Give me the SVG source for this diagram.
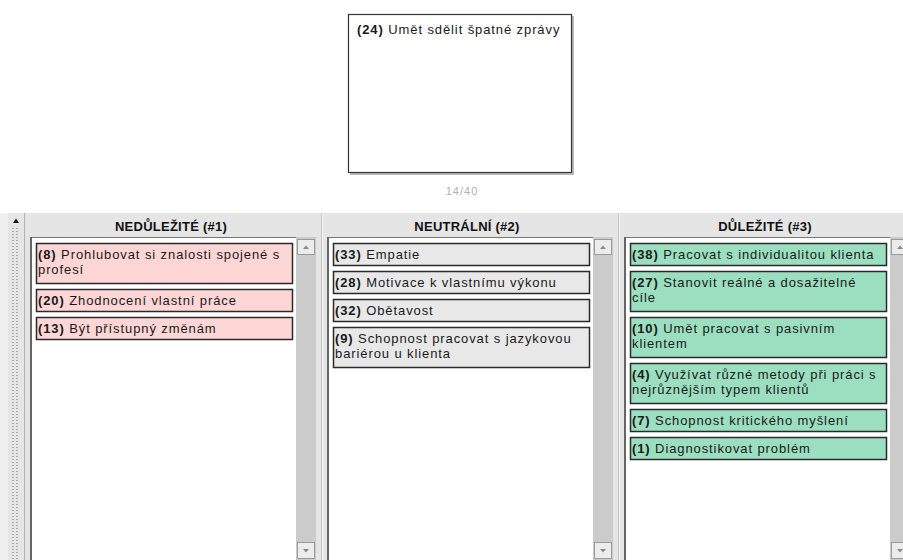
<svg xmlns="http://www.w3.org/2000/svg" width="903" height="560" viewBox="0 0 903 560">
<style>
.t{font-family:"Liberation Sans",Arial,sans-serif;font-size:13px;letter-spacing:0.9px;fill:#1a1a1a}
.b{font-weight:bold}
.h{font-family:"Liberation Sans",Arial,sans-serif;font-size:13px;font-weight:bold;letter-spacing:0.25px;fill:#111;text-anchor:middle}
.card{stroke:#2a2a2a;stroke-width:1.5}
.p{fill:#ffd6d6}
.g{fill:#e8e8e8}
.gr{fill:#9cdfc0}
.panel{fill:#e5e5e5}
.track{fill:#cbcbcb}
.btn{fill:#ececec;stroke:#9a9a9a;stroke-width:1}
.arr{fill:#8a8a8a}
</style>
<defs>
<pattern id="dots" x="12" y="0" width="10" height="3" patternUnits="userSpaceOnUse">
<rect x="0" y="0" width="2" height="1" fill="#a8a8a8"/>
<rect x="4" y="0" width="2" height="1" fill="#a8a8a8"/>
</pattern>
</defs>
<rect width="903" height="560" fill="#ffffff"/>

<g id="card-24">
<rect x="350" y="16" width="224" height="159" fill="#b8b8b8"/>
<rect x="348.5" y="14.5" width="223" height="158" fill="#ffffff" stroke="#333" stroke-width="1.2"/>
<text class="t" x="357" y="34"><tspan class="b">(24)</tspan> Umět sdělit špatné zprávy</text>
</g>
<text id="counter" x="462" y="195" font-family="Liberation Sans, Arial, sans-serif" font-size="11" letter-spacing="1" fill="#b0b0b0" text-anchor="middle">14/40</text>

<g id="left-strip">
<rect x="0" y="213" width="25" height="347" fill="#f0f0f0"/>
<rect x="8" y="213" width="16" height="347" fill="#e6e6e6"/>
<rect x="12" y="228" width="10" height="332" fill="url(#dots)"/>
<line x1="24.5" y1="213" x2="24.5" y2="560" stroke="#b0b0b0"/>
<path d="M13,223 L16,218.5 L19,223 Z" fill="#111"/>
</g>

<g id="column-1">
<rect class="panel" x="25" y="213" width="297" height="347"/>
<text class="h" x="171" y="231">NEDŮLEŽITÉ (#1)</text>
<rect x="30" y="237" width="267" height="323" fill="#fff"/>
<line x1="30" y1="237.5" x2="297" y2="237.5" stroke="#777" stroke-width="1"/>
<line x1="31" y1="237" x2="31" y2="560" stroke="#666" stroke-width="2"/>
<rect class="track" x="296" y="237" width="20" height="323"/>
<rect class="btn" x="297.5" y="239.5" width="17" height="15"/>
<path class="arr" d="M303,249 L306,245.5 L309,249 Z"/>
<rect class="btn" x="297.5" y="542.5" width="17" height="16"/>
<path class="arr" d="M303,549 L306,552.5 L309,549 Z"/>
<line x1="321.5" y1="213" x2="321.5" y2="560" stroke="#c4c4c4"/>
<line x1="322.5" y1="213" x2="322.5" y2="560" stroke="#f6f6f6"/>
</g>

<g id="column-2">
<rect class="panel" x="323" y="213" width="296" height="347"/>
<text class="h" x="467" y="231">NEUTRÁLNÍ (#2)</text>
<rect x="327" y="237" width="267" height="323" fill="#fff"/>
<line x1="327" y1="237.5" x2="594" y2="237.5" stroke="#777" stroke-width="1"/>
<line x1="328" y1="237" x2="328" y2="560" stroke="#666" stroke-width="2"/>
<rect class="track" x="593" y="237" width="20" height="323"/>
<rect class="btn" x="594.5" y="239.5" width="17" height="15"/>
<path class="arr" d="M600,249 L603,245.5 L606,249 Z"/>
<rect class="btn" x="594.5" y="542.5" width="17" height="16"/>
<path class="arr" d="M600,549 L603,552.5 L606,549 Z"/>
<line x1="618.5" y1="213" x2="618.5" y2="560" stroke="#c4c4c4"/>
<line x1="619.5" y1="213" x2="619.5" y2="560" stroke="#f6f6f6"/>
</g>

<g id="column-3">
<rect class="panel" x="620" y="213" width="283" height="347"/>
<text class="h" x="765" y="231">DŮLEŽITÉ (#3)</text>
<rect x="624" y="237" width="267" height="323" fill="#fff"/>
<line x1="624" y1="237.5" x2="891" y2="237.5" stroke="#777" stroke-width="1"/>
<line x1="625" y1="237" x2="625" y2="560" stroke="#666" stroke-width="2"/>
<rect class="track" x="890" y="237" width="20" height="323"/>
<rect class="btn" x="891.5" y="239.5" width="17" height="15"/>
<path class="arr" d="M897,249 L900,245.5 L903,249 Z"/>
<rect class="btn" x="891.5" y="542.5" width="17" height="16"/>
<path class="arr" d="M897,549 L900,552.5 L903,549 Z"/>
</g>

<g id="card-8"><rect class="card p" x="36.5" y="243.5" width="256" height="40"/>
<text class="t" x="38" y="259"><tspan class="b">(8)</tspan> Prohlubovat si znalosti spojené s</text>
<text class="t" x="38" y="274">profesí</text></g>
<g id="card-20"><rect class="card p" x="36.5" y="289.5" width="256" height="22"/>
<text class="t" x="38" y="305"><tspan class="b">(20)</tspan> Zhodnocení vlastní práce</text></g>
<g id="card-13"><rect class="card p" x="36.5" y="317.5" width="256" height="22"/>
<text class="t" x="38" y="333"><tspan class="b">(13)</tspan> Být přístupný změnám</text></g>

<g id="card-33"><rect class="card g" x="333.5" y="243.5" width="256" height="22"/>
<text class="t" x="335" y="259"><tspan class="b">(33)</tspan> Empatie</text></g>
<g id="card-28"><rect class="card g" x="333.5" y="271.5" width="256" height="22"/>
<text class="t" x="335" y="287"><tspan class="b">(28)</tspan> Motivace k vlastnímu výkonu</text></g>
<g id="card-32"><rect class="card g" x="333.5" y="299.5" width="256" height="22"/>
<text class="t" x="335" y="315"><tspan class="b">(32)</tspan> Obětavost</text></g>
<g id="card-9"><rect class="card g" x="333.5" y="327.5" width="256" height="40"/>
<text class="t" x="335" y="343"><tspan class="b">(9)</tspan> Schopnost pracovat s jazykovou</text>
<text class="t" x="335" y="358">bariérou u klienta</text></g>

<g id="card-38"><rect class="card gr" x="630.5" y="243.5" width="256" height="22"/>
<text class="t" x="632" y="259"><tspan class="b">(38)</tspan> Pracovat s individualitou klienta</text></g>
<g id="card-27"><rect class="card gr" x="630.5" y="271.5" width="256" height="40"/>
<text class="t" x="632" y="287"><tspan class="b">(27)</tspan> Stanovit reálné a dosažitelné</text>
<text class="t" x="632" y="302">cíle</text></g>
<g id="card-10"><rect class="card gr" x="630.5" y="317.5" width="256" height="40"/>
<text class="t" x="632" y="333"><tspan class="b">(10)</tspan> Umět pracovat s pasivním</text>
<text class="t" x="632" y="348">klientem</text></g>
<g id="card-4"><rect class="card gr" x="630.5" y="363.5" width="256" height="40"/>
<text class="t" x="632" y="379"><tspan class="b">(4)</tspan> Využívat různé metody při práci s</text>
<text class="t" x="632" y="394">nejrůznějším typem klientů</text></g>
<g id="card-7"><rect class="card gr" x="630.5" y="409.5" width="256" height="22"/>
<text class="t" x="632" y="425"><tspan class="b">(7)</tspan> Schopnost kritického myšlení</text></g>
<g id="card-1"><rect class="card gr" x="630.5" y="437.5" width="256" height="22"/>
<text class="t" x="632" y="453"><tspan class="b">(1)</tspan> Diagnostikovat problém</text></g>

<g id="connectors"></g>
</svg>
